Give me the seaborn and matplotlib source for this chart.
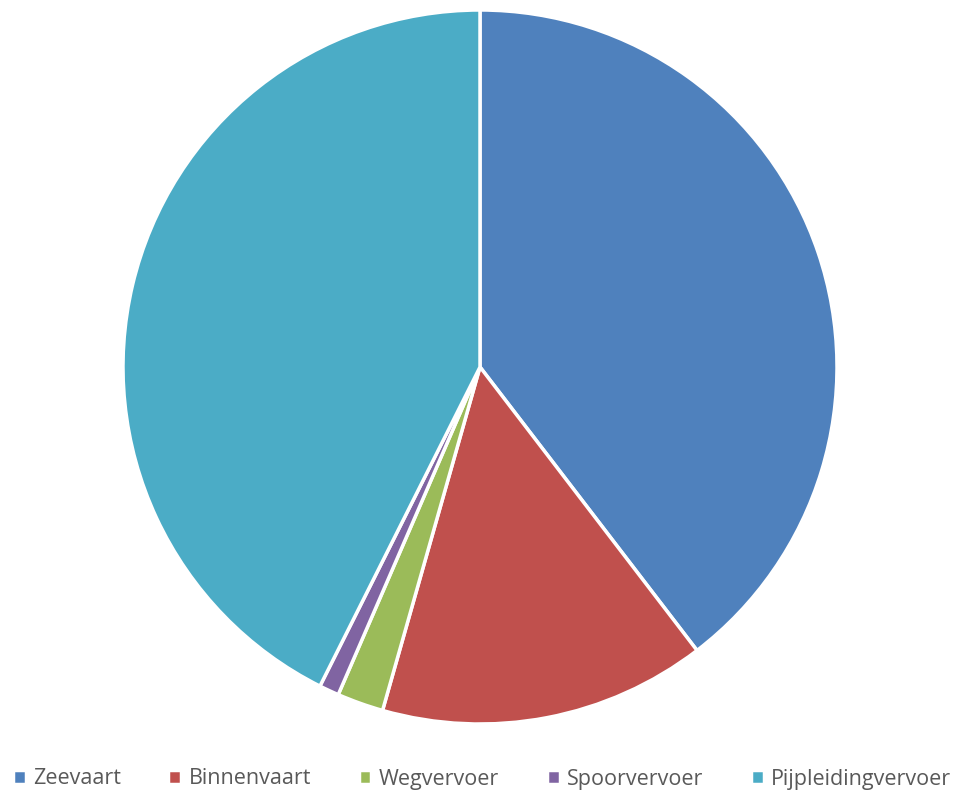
import matplotlib
matplotlib.use("Agg")

import matplotlib.pyplot as plt
import seaborn as sns

sns.set_theme(style="white")
plt.rcParams['font.family'] = ['Open Sans', 'DejaVu Sans']

# share per mode of transport (%)
labels = ["Zeevaart", "Binnenvaart", "Wegvervoer", "Spoorvervoer", "Pijpleidingvervoer"]
values = [39.6, 14.8, 2.1, 0.9, 42.6]
colors = sns.color_palette(["#4F81BD", "#C0504D", "#9BBB59", "#8064A2", "#4BACC6"])

fig = plt.figure(figsize=(9.64, 7.99), dpi=100)
ax = fig.add_axes([123 / 964, (799 - 367 - 357) / 799, 714 / 964, 714 / 799])

wedges, _ = ax.pie(values, colors=colors, startangle=90, counterclock=False,
                   radius=1.0, wedgeprops=dict(edgecolor="white", linewidth=2.5))
ax.set_xlim(-1, 1)
ax.set_ylim(-1, 1)
ax.set_aspect("equal")
ax.axis("off")

fig.legend(wedges, labels, loc="center", bbox_to_anchor=(0.5, 1 - 779 / 799),
           ncol=5, frameon=False, fontsize=15.5, labelcolor="#595959",
           handlelength=0.6, handleheight=0.6, handletextpad=0.35,
           columnspacing=2.2)

fig.savefig("out.png", dpi=100)
